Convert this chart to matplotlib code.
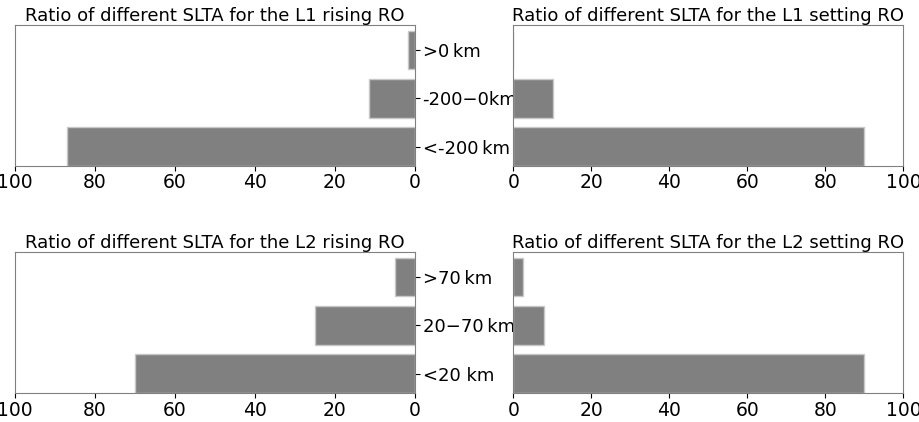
import matplotlib
matplotlib.use("Agg")
import matplotlib.pyplot as plt

# SLTA classes and ratios (%)
l1_labels = ['<-200\u2009km', '-200\u22120km', '>0\u2009km']
l2_labels = ['<20 km', '20\u221270\u2009km', '>70\u2009km']
l1_rising = [87, 11.5, 1.8]
l1_setting = [89.8, 10.2, 0]
l2_rising = [70, 25, 5]
l2_setting = [90, 7.8, 2.4]

fig = plt.figure(figsize=(9.2, 4.22), dpi=100)
rows = [(0.607, l1_labels, l1_rising, l1_setting, 'L1'),
        (0.069, l2_labels, l2_rising, l2_setting, 'L2')]
for bottom, labels, rising, setting, band in rows:
    axl = fig.add_axes([0.016, bottom, 0.435, 0.334])
    axr = fig.add_axes([0.558, bottom, 0.424, 0.334])
    pos = range(len(labels))
    axl.barh(pos, rising, height=0.8, color='grey', edgecolor='#c8c8c8')
    axr.barh(pos, setting, height=0.8, color='grey', edgecolor='#c8c8c8')
    axl.set_xlim(100, 0)
    axr.set_xlim(0, 100)
    for ax in (axl, axr):
        ax.set_ylim(-0.4, 2.52)
        ax.set_xticks([0, 20, 40, 60, 80, 100])
        ax.tick_params(labelsize=13.5, pad=2)
        for s in ax.spines.values():
            s.set_color('#808080')
    axl.yaxis.tick_right()
    axl.set_yticks(list(pos))
    axl.set_yticklabels(labels, family=['DejaVu Sans'], fontsize=13)
    axr.set_yticks([])
    axl.set_title('Ratio of different SLTA for the %s rising RO' % band, fontsize=13, pad=3)
    axr.set_title('Ratio of different SLTA for the %s setting RO' % band, fontsize=13, pad=3)

fig.savefig('out.png')
